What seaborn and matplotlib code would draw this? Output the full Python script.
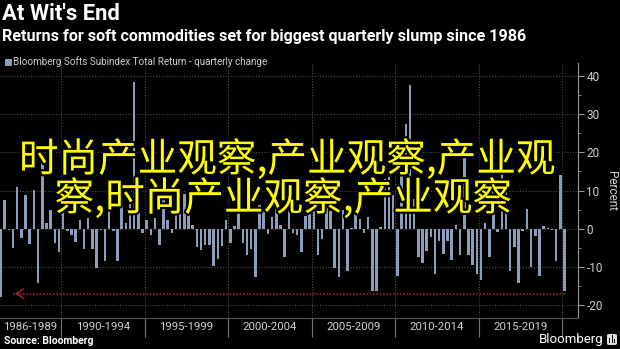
import matplotlib
matplotlib.use("Agg")
import matplotlib.pyplot as plt
import matplotlib.patheffects as pe
from matplotlib.patches import FancyBboxPatch, Rectangle
import pandas as pd
import seaborn as sns

# ---------------- data ----------------
start_year = 1986
start_quarter = 2
quarterly_change = [
    -18.0, 7.6, -0.4, -5.0, 10.8, -2.4, 8.8, -4.1, 10.1, -14.3,
    17.4, 1.5, 4.8, -3.7, -6.0, 13.0, -0.7, -1.6, -3.5, 2.3,
    -5.3, 2.8, -5.3, -10.3, -0.4, -8.5, 8.5, -0.5, -8.5, 8.0,
    1.6, 9.0, 38.4, 12.0, -1.1, 2.3, -1.6, 2.8, -4.2, 8.0,
    2.3, -1.1, 6.0, 6.0, 9.0, 4.0,
    1.0, -4.7, -5.5, -4.2, -4.2, -9.8, -8.0, -4.6, 2.3, -3.8,
    0.8, 5.0, -3.7, -6.8, -5.3, -12.6, 6.3, 5.4, -1.4, 3.0,
    5.6, 1.0,
    -7.4, 4.5, -1.1, -1.6, -6.0, 3.2, 5.4, 5.8, -7.0, -2.6,
    6.3, 4.5, -10.2, -12.6, 5.0, -11.1, 0.2, 4.5, 2.6, -1.1,
    3.1, -16.2, -16.2, 0.5, 13.0, 13.5, 8.7, -12.4, 14.0, 27.5,
    37.6, 7.8, -7.5, -9.0, -5.9, -2.2, -11.8, -3.2, -6.7, -3.1,
    -8.2, 1.0, -6.9, 19.5, -7.0, -9.5, -12.0, -13.5, 1.5, -7.4,
    10.5, -0.8, 20.3, 11.0, -11.1, -4.9, -14.2, -0.7, 5.2, -10.1,
    -1.8, -12.4, 0.8, 0.3, -0.3, -8.5, 14.1, -16.3,
]
period_labels = ["1986-1989", "1990-1994", "1995-1999", "2000-2004",
                 "2005-2009", "2010-2014", "2015-2019"]
period_boundary_years = [1990, 1995, 2000, 2005, 2010, 2015, 2020]
y_ticks = [-20, -10, 0, 10, 20, 30, 40]
slump_level = -17
title_text = "At Wit's End"
subtitle_text = "Returns for soft commodities set for biggest quarterly slump since 1986"
legend_text = "Bloomberg Softs Subindex Total Return - quarterly change"
source_text = "Source: Bloomberg"
brand_text = "Bloomberg"
overlay_line1 = "时尚产业观察,产业观察,产业观"
overlay_line2 = "察,时尚产业观察,产业观察"

# quarter categories
years, quarters = [], []
y, q = start_year, start_quarter
for _ in quarterly_change:
    years.append(y)
    quarters.append(q)
    q += 1
    if q > 4:
        q, y = 1, y + 1
df = pd.DataFrame({
    "quarter": [f"{a}Q{b}" for a, b in zip(years, quarters)],
    "change": quarterly_change,
})

# ---------------- style ----------------
W, H = 620, 349
BG = "black"
BAR = "#8c9dba"
GRID = "#4d4d4d"
TXT = "#d0d0d0"
RED = "#a02626"

sns.set_theme(style="dark")
plt.rcParams["font.family"] = ["Roboto", "DejaVu Sans"]

fig = plt.figure(figsize=(W / 100, H / 100), dpi=100, facecolor=BG)
ax_top, ax_bot, ax_right = 63, 318, 578
ax = fig.add_axes([0, 1 - ax_bot / H, ax_right / W, (ax_bot - ax_top) / H])
ax.set_facecolor(BG)

sns.barplot(data=df, x="quarter", y="change", color=BAR, saturation=1,
            width=0.6, edgecolor="none", linewidth=0, ax=ax, zorder=3)

px_per_q = 4.178
ax.set_xlim(-0.5 / px_per_q, (ax_right - 0.5) / px_per_q)
ax.set_ylim(-23.4, 43.4)

# boundaries between periods
bounds = []
for by in period_boundary_years:
    idx = next(i for i, (a, b) in enumerate(zip(years, quarters)) if a == by and b == 1)
    bounds.append(idx - 0.5)
centers = [(-0.5 + bounds[0]) / 2] + [(bounds[i] + bounds[i + 1]) / 2 for i in range(len(bounds) - 1)]

for yt in y_ticks:
    ax.axhline(yt, color=GRID, lw=0.8, ls=(0, (1, 1.5)), zorder=1)
for b in bounds:
    ax.axvline(b, color=GRID, lw=0.8, ls=(0, (1, 1.5)), zorder=1)
ax.grid(False)

# red reference line with arrow
n = len(quarterly_change)
ax.hlines(slump_level, 2.9, n - 1, color=RED, lw=1.2, ls=(0, (1, 1)), zorder=4)
ax.annotate("", xy=(2.75, slump_level), xytext=(5.0, slump_level),
            arrowprops=dict(arrowstyle="->,head_length=0.45,head_width=0.28",
                            color=RED, lw=1.0), zorder=4)

# axes styling
for s in ["top", "left"]:
    ax.spines[s].set_visible(False)
ax.spines["right"].set_color("#9a9a9a")
ax.spines["right"].set_linewidth(0.8)
ax.spines["bottom"].set_color("#555555")
ax.spines["bottom"].set_linewidth(0.8)

ax.yaxis.tick_right()
ax.yaxis.set_label_position("right")
ax.set_yticks(y_ticks)
ax.set_yticklabels([str(t) for t in y_ticks])
ax.set_yticks(list(range(-20, 45, 5)), minor=True)
ax.tick_params(axis="y", which="major", colors="#9a9a9a", labelcolor=TXT,
               labelsize=8.5, length=4, width=0.8, direction="out", pad=2,
               left=False, right=True)
ax.tick_params(axis="y", which="minor", colors="#9a9a9a", length=2, width=0.6,
               left=False, right=True)
ax.set_ylabel("Percent", color=TXT, fontsize=8.5, rotation=270, labelpad=11)

ax.set_xticks(bounds)
ax.set_xticklabels([""] * len(bounds))
ax.set_xticks(centers, minor=True)
ax.set_xticklabels(period_labels, minor=True)
ax.tick_params(axis="x", which="major", colors="#777777", length=14, width=0.8,
               direction="out", bottom=True)
ax.tick_params(axis="x", which="minor", length=0, labelcolor=TXT,
               labelsize=8.2, pad=3, bottom=True)
ax.set_xlabel("")

# ---------------- header / footer ----------------
def fy(ypx):
    return 1 - ypx / H

fig.text(2 / W, fy(13.5), title_text, color="white", fontsize=15.8,
         fontweight="bold", va="center", ha="left")
fig.text(2 / W, fy(37), subtitle_text, color="white", fontsize=11.6,
         fontweight="bold", va="center", ha="left")
fig.patches.append(Rectangle((5 / W, fy(66)), 7 / W, 7 / H, transform=fig.transFigure,
                             facecolor=BAR, edgecolor="none"))
fig.text(13 / W, fy(62), legend_text, color=TXT, fontsize=7.1, va="center", ha="left")

fig.text(4 / W, fy(341), source_text, color="white", fontsize=7.5,
         fontweight="bold", va="center", ha="left")
fig.text(603 / W, fy(339), brand_text, color="white", fontsize=9.5,
         va="center", ha="right")
fig.patches.append(FancyBboxPatch((607 / W, fy(345)), 10 / W, 11 / H,
                                  boxstyle="round,pad=0,rounding_size=0.004",
                                  transform=fig.transFigure, facecolor="#dddddd",
                                  edgecolor="none"))
for k, hgt in enumerate([5, 8, 4]):
    fig.patches.append(Rectangle(((609 + k * 2.5) / W, fy(343)), 1.4 / W, hgt / H,
                                 transform=fig.transFigure, facecolor="black",
                                 edgecolor="none"))

# ---------------- overlay watermark text ----------------
cjk = ["Noto Sans CJK SC", "DejaVu Sans"]
stroke = [pe.withStroke(linewidth=3, foreground="black")]
fig.text(287.5 / W, fy(160), overlay_line1, color="#ffff00", fontsize=28.5,
         family=cjk, ha="center", va="center", path_effects=stroke, zorder=10)
fig.text(283.5 / W, fy(199), overlay_line2, color="#ffff00", fontsize=28.5,
         family=cjk, ha="center", va="center", path_effects=stroke, zorder=10)

fig.savefig("out.png", dpi=100, facecolor=BG)
